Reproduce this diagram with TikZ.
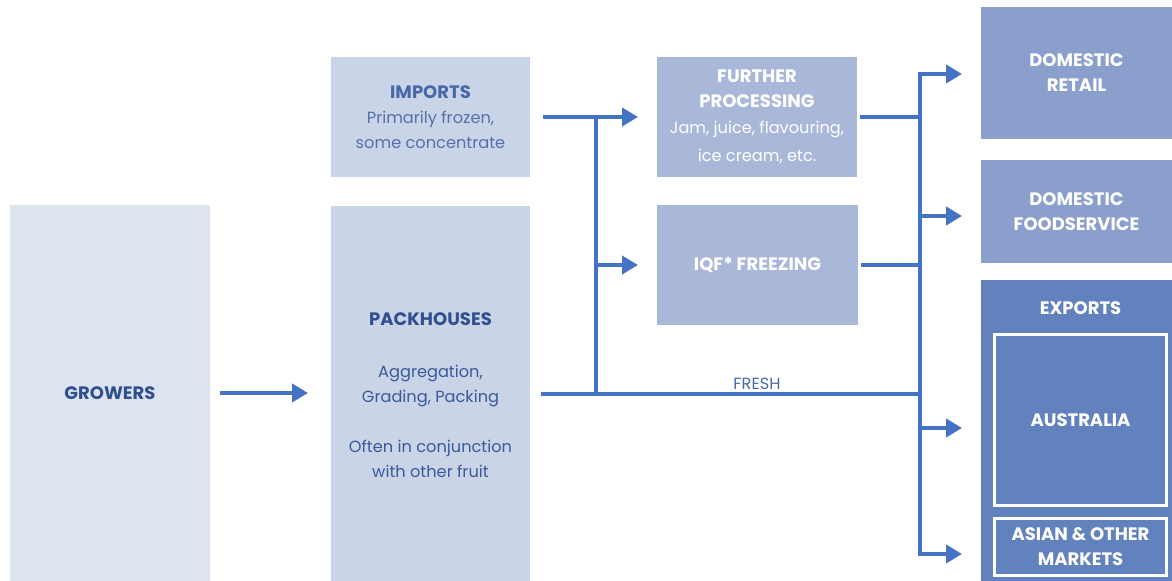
\documentclass[tikz,border=0pt]{standalone}
\usepackage{fontspec}
\setmainfont{Poppins}
\usetikzlibrary{arrows.meta}
\definecolor{cgrow}{HTML}{DDE3EF}
\definecolor{cpack}{HTML}{C9D4E7}
\definecolor{cproc}{HTML}{A9B8D9}
\definecolor{cdom}{HTML}{8A9FCB}
\definecolor{cexp}{HTML}{6282BE}
\definecolor{carrow}{HTML}{4472C4}
\definecolor{ctitle}{HTML}{2F4F8F}
\definecolor{cimp}{HTML}{4968AB}
\definecolor{cimpbody}{HTML}{5670AC}
\definecolor{cpackbody}{HTML}{3A5A9B}
\newcommand\boxttl[1]{{\fontsize{9}{12.5}\selectfont\bfseries #1}}
\begin{document}
\begin{tikzpicture}[x=0.5pt,y=-0.5pt,
  box/.style={draw=none, inner sep=0pt, outer sep=0pt, align=center,
    font=\fontsize{8.1}{12.5}\selectfont},
  bold/.style={font=\fontsize{9}{12.5}\selectfont\bfseries},
  flow/.style={draw=carrow, line width=2.2pt, -{Triangle[length=8pt,width=9pt]}},
  bus/.style={draw=carrow, line width=2.2pt, line cap=rect}]
\useasboundingbox (0,0) rectangle (1172,581);
% boxes
\node[box, bold, fill=cgrow, text=ctitle, minimum width=100pt, minimum height=188pt] (grow) at (110,393) {GROWERS};
\node[box, fill=cpack, minimum width=99.5pt, minimum height=187.5pt] (pack) at (430.5,393.5) {};
\node[box, text=cpackbody] (packtext) at (430.5,395)
  {\textcolor{ctitle}{\boxttl{PACKHOUSES}}\\[13.5pt]Aggregation,\\Grading, Packing\\[12.5pt]Often in conjunction\\with other fruit};
\node[box, fill=cpack, text=cimpbody, minimum width=99.5pt, minimum height=60pt] (imports) at (430.5,117)
  {\textcolor{cimp}{\boxttl{IMPORTS}}\\Primarily frozen,\\some concentrate};
\node[box, fill=cproc, text=white, minimum width=100pt, minimum height=60pt] (further) at (757,117)
  {\boxttl{FURTHER}\\\boxttl{PROCESSING}\\[0.5pt]Jam, juice, flavouring,\\[1.5pt]ice cream, etc.};
\node[box, bold, fill=cproc, text=white, minimum width=100.5pt, minimum height=60pt] (iqf) at (757.5,265) {IQF* FREEZING};
\node[box, bold, fill=cdom, text=white, minimum width=95.5pt, minimum height=66pt] (retail) at (1076.5,73) {DOMESTIC\\RETAIL};
\node[box, bold, fill=cdom, text=white, minimum width=95.5pt, minimum height=51.5pt] (food) at (1076.5,211.5) {DOMESTIC\\FOODSERVICE};
\node[box, fill=cexp, minimum width=95.5pt, minimum height=150.5pt] (exports) at (1076.5,430.5) {};
\node[box, bold, text=white] (exptitle) at (1080.5,308) {EXPORTS};
\node[box, bold, draw=white, line width=1.5pt, text=white, minimum width=86pt, minimum height=85.5pt] (aus) at (1080.5,420) {AUSTRALIA};
\node[box, bold, draw=white, line width=1.5pt, text=white, minimum width=86pt, minimum height=28.5pt] (asian) at (1080.5,547) {ASIAN \& OTHER\\MARKETS};
% junctions
\coordinate (jImp) at (596,117);
\coordinate (jIqf) at (596,265);
\coordinate (jFresh) at (596,394);
\coordinate (busTop) at (920,74);
\coordinate (busFood) at (920,216);
\coordinate (busExp) at (920,428);
\coordinate (busBot) at (920,554);
% connectors
\draw[flow] ([xshift=5pt]grow.east) -- ([xshift=-11.5pt]pack.west |- grow.east);
\draw[flow] ([xshift=6.5pt]imports.east) -- ([xshift=-9.5pt]further.west);
\draw[bus] (jImp) -- (jFresh);
\draw[flow] (jIqf) -- ([xshift=-9.5pt]iqf.west |- jIqf);
\draw[bus] ([xshift=6.5pt]pack.east |- jFresh) -- (jFresh -| busTop);
\node[box, text=cimp, anchor=base] (fresh) at (757,390) {FRESH};
\draw[bus] ([xshift=2.5pt]further.east) -- (further.east -| busTop);
\draw[bus] ([xshift=2.5pt]iqf.east) -- (iqf.east -| busTop);
\draw[bus] (busTop) -- (busBot);
\draw[flow] (busTop) -- ([xshift=-9.5pt]retail.west |- busTop);
\draw[flow] (busFood) -- ([xshift=-9.5pt]food.west |- busFood);
\draw[flow] (busExp) -- ([xshift=-9.5pt]exports.west |- busExp);
\draw[flow] (busBot) -- ([xshift=-9.5pt]exports.west |- busBot);
\end{tikzpicture}
\end{document}
